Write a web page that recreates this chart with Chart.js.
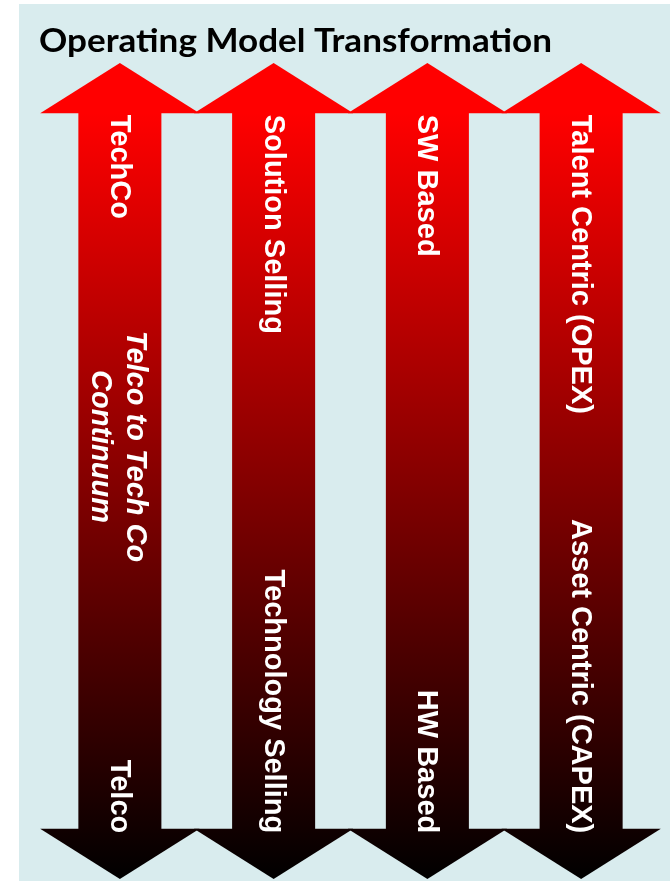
<!DOCTYPE html>
<html>
<head>
<meta charset="utf-8">
<title>Operating Model Transformation</title>
<script src="https://cdn.jsdelivr.net/npm/chart.js@4.4.1/dist/chart.umd.min.js"></script>
<style>
  html, body { margin: 0; padding: 0; background: #fff; }
  #wrap { width: 670px; height: 881px; }
</style>
</head>
<body>
<div id="wrap"><canvas id="modelChart"></canvas></div>
<script>
// one double arrow per dimension; the top end is where we go, the bottom end where we come from
const topLabels = ['TechCo', 'Solution Selling', 'SW Based', 'Talent Centric (OPEX)'];
const bottomLabels = ['Telco', 'Technology Selling', 'HW Based', 'Asset Centric (CAPEX)'];
const shaftFrom = [6.1, 6.1, 6.1, 6.1];
const shaftTo = [93.9, 93.9, 93.9, 93.9];
const arrowMin = 0;
const arrowMax = 100;
const noteLines = ['Telco to Tech Co', 'Continuum'];
const noteAt = 53;
const chartTitle = 'Operating Model Transformation';

const labelFont = 'bold 29px "Liberation Sans", Arial, sans-serif';
const noteFont = 'italic bold 29px "Liberation Sans", Arial, sans-serif';

function arrowGradient(chart) {
  const y = chart.scales.y;
  const g = chart.ctx.createLinearGradient(0, y.getPixelForValue(shaftTo[0]), 0, y.getPixelForValue(arrowMin));
  g.addColorStop(0, '#ff0000');
  g.addColorStop(1, '#000000');
  return g;
}

const backdrop = {
  id: 'backdrop',
  beforeDraw(chart) {
    const ctx = chart.ctx;
    ctx.save();
    ctx.fillStyle = '#ffffff';
    ctx.fillRect(0, 0, chart.width, chart.height);
    ctx.fillStyle = '#d9ecee';
    ctx.fillRect(19, 4, chart.width - 19, chart.height - 4);
    // title is squeezed/stretched to the width it has in the slide
    ctx.fillStyle = '#000000';
    ctx.font = 'bold 32px Lato, "Open Sans", sans-serif';
    ctx.textBaseline = 'alphabetic';
    const w = ctx.measureText(chartTitle).width;
    ctx.translate(39, 52);
    ctx.scale(513 / w, 1);
    ctx.fillText(chartTitle, 0, 0);
    ctx.restore();
  }
};

const arrowHeads = {
  id: 'arrowHeads',
  afterDatasetsDraw(chart) {
    const ctx = chart.ctx;
    const y = chart.scales.y;
    const meta = chart.getDatasetMeta(0);
    const fill = arrowGradient(chart);
    ctx.save();
    meta.data.forEach((bar, i) => {
      const p = bar.getProps(['x', 'y', 'base', 'width'], true);
      const half = p.width * 0.96;
      const top = y.getPixelForValue(arrowMax);
      const bottom = y.getPixelForValue(arrowMin);
      ctx.fillStyle = fill;
      ctx.beginPath();
      ctx.moveTo(p.x, top);
      ctx.lineTo(p.x + half, p.y + 0.5);
      ctx.lineTo(p.x - half, p.y + 0.5);
      ctx.closePath();
      ctx.fill();
      ctx.beginPath();
      ctx.moveTo(p.x, bottom);
      ctx.lineTo(p.x + half, p.base - 0.5);
      ctx.lineTo(p.x - half, p.base - 0.5);
      ctx.closePath();
      ctx.fill();

      // labels run top to bottom along the shaft
      ctx.fillStyle = '#ffffff';
      ctx.font = labelFont;
      ctx.textBaseline = 'middle';
      ctx.save();
      ctx.translate(p.x - 1, p.y + 2);
      ctx.rotate(Math.PI / 2);
      ctx.textAlign = 'left';
      ctx.fillText(topLabels[i], 0, 0);
      ctx.restore();
      ctx.save();
      ctx.translate(p.x - 1, p.base + 4);
      ctx.rotate(Math.PI / 2);
      ctx.textAlign = 'right';
      ctx.fillText(bottomLabels[i], 0, 0);
      ctx.restore();
    });

    const first = meta.data[0].getProps(['x'], true);
    ctx.font = noteFont;
    ctx.fillStyle = '#ffffff';
    ctx.textBaseline = 'middle';
    ctx.textAlign = 'center';
    ctx.translate(first.x - 2, y.getPixelForValue(noteAt));
    ctx.rotate(Math.PI / 2);
    noteLines.forEach((line, k) => {
      ctx.fillText(line, 0, (k - (noteLines.length - 1) / 2) * 35);
    });
    ctx.restore();
  }
};

const ctx = document.getElementById('modelChart').getContext('2d');
new Chart(ctx, {
  type: 'bar',
  data: {
    labels: topLabels,
    datasets: [{
      data: shaftFrom.map((v, i) => [v, shaftTo[i]]),
      backgroundColor: (c) => c.chart.chartArea ? arrowGradient(c.chart) : '#ff0000',
      borderWidth: 0,
      borderSkipped: false,
      categoryPercentage: 1,
      barPercentage: 0.54
    }]
  },
  options: {
    responsive: true,
    maintainAspectRatio: false,
    animation: false,
    layout: { padding: { top: 63, bottom: 2, left: 43, right: 12 } },
    scales: {
      x: { display: false },
      y: { display: false, min: arrowMin, max: arrowMax }
    },
    plugins: {
      legend: { display: false },
      title: { display: false },
      tooltip: { enabled: false }
    }
  },
  plugins: [backdrop, arrowHeads]
});
</script>
</body>
</html>
